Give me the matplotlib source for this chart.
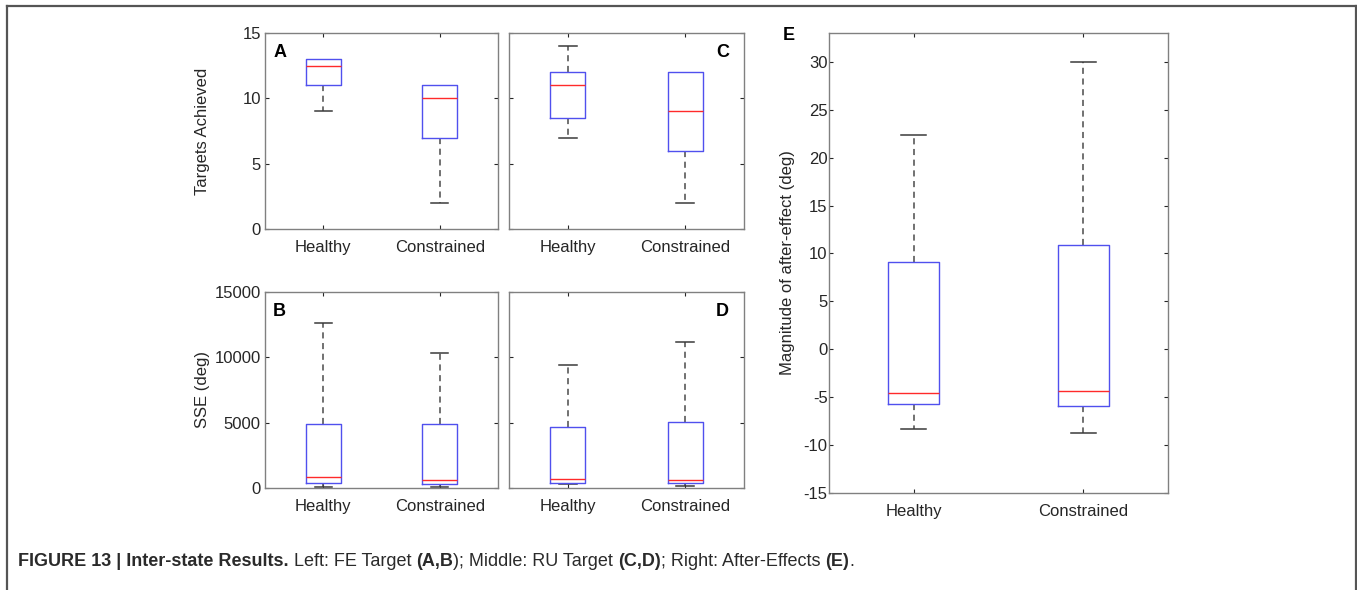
import matplotlib
matplotlib.use("Agg")
import matplotlib.pyplot as plt
from matplotlib.lines import Line2D

plt.rcParams['font.family'] = ['Liberation Sans', 'DejaVu Sans']
plt.rcParams['axes.unicode_minus'] = False

groups = ['Healthy', 'Constrained']

# five-number summaries per group: low whisker, q1, median, q3, high whisker
fe_targets = [[9, 11, 12.5, 13, 13], [2, 7, 10, 11, 11]]
fe_sse = [[100, 360, 840, 4870, 12600], [100, 280, 640, 4920, 10330]]
ru_targets = [[7, 8.5, 11, 12, 14], [2, 6, 9, 12, 12]]
ru_sse = [[280, 360, 690, 4690, 9390], [150, 380, 640, 5070, 11170]]
after_effect = [[-8.3, -5.7, -4.6, 9.1, 22.4], [-8.7, -5.9, -4.4, 10.9, 30.0]]

targets_ticks = [0, 5, 10, 15]
sse_ticks = [0, 5000, 10000, 15000]
ae_ticks = [-15, -10, -5, 0, 5, 10, 15, 20, 25, 30]

W, H = 1357, 590
fig = plt.figure(figsize=(W / 100, H / 100), dpi=100)

def px_axes(left, top, right, bottom):
    return fig.add_axes([left / W, 1 - bottom / H, (right - left) / W, (bottom - top) / H])

def boxes(ax, summary):
    stats = []
    for name, (lo, q1, med, q3, hi) in zip(groups, summary):
        stats.append(dict(label=name, whislo=lo, q1=q1, med=med, q3=q3, whishi=hi))
    parts = ax.bxp(stats, positions=[1, 2], widths=0.3, showfliers=False,
                   boxprops=dict(color='#5050ee', lw=1.0, zorder=3),
                   medianprops=dict(color='#ff2a2a', lw=1.0, zorder=4),
                   whiskerprops=dict(color='#4a4a4a', lw=1.1, linestyle=(0, (4, 3)), zorder=2),
                   capprops=dict(color='#3a3a3a', lw=1.1, zorder=2))
    # no cap where the whisker has zero length (it would sit on the box edge)
    for i, st in enumerate(stats):
        if st['whislo'] == st['q1']:
            parts['caps'][2 * i].set_visible(False)
        if st['whishi'] == st['q3']:
            parts['caps'][2 * i + 1].set_visible(False)
    ax.set_xlim(0.5, 2.5)
    ax.tick_params(direction='in', length=3, top=True, right=True,
                   labelsize=12, colors='#262626', pad=3)
    ax.tick_params(axis='x', labelsize=12, pad=8)
    for s in ax.spines.values():
        s.set_color('#808080')
        s.set_linewidth(1.0)

ax_a = px_axes(265, 33, 498, 229)
ax_c = px_axes(509, 33, 744, 229)
ax_b = px_axes(265, 292, 498, 488)
ax_d = px_axes(509, 292, 744, 488)
ax_e = px_axes(829, 33, 1168, 493)

boxes(ax_a, fe_targets)
boxes(ax_c, ru_targets)
boxes(ax_b, fe_sse)
boxes(ax_d, ru_sse)
boxes(ax_e, after_effect)

for ax in (ax_a, ax_c):
    ax.set_ylim(0, 15)
    ax.set_yticks(targets_ticks)
for ax in (ax_b, ax_d):
    ax.set_ylim(0, 15000)
    ax.set_yticks(sse_ticks)
ax_c.set_yticklabels([])
ax_d.set_yticklabels([])
ax_e.set_ylim(-15, 33)
ax_e.set_yticks(ae_ticks)
ax_e.tick_params(axis='y', pad=1)

ax_a.set_ylabel('Targets Achieved', fontsize=12, color='#262626')
ax_a.yaxis.set_label_coords(-0.236, 0.5)
ax_b.set_ylabel('SSE (deg)', fontsize=12, color='#262626')
ax_b.yaxis.set_label_coords(-0.236, 0.5)
ax_e.set_ylabel('Magnitude of after-effect (deg)', fontsize=12, color='#262626')
ax_e.yaxis.set_label_coords(-0.100, 0.5)

letter = dict(fontsize=13, fontweight='bold', va='center')
ax_a.text(0.035, 0.9, 'A', transform=ax_a.transAxes, ha='left', **letter)
ax_b.text(0.035, 0.9, 'B', transform=ax_b.transAxes, ha='left', **letter)
ax_c.text(0.936, 0.9, 'C', transform=ax_c.transAxes, ha='right', **letter)
ax_d.text(0.936, 0.9, 'D', transform=ax_d.transAxes, ha='right', **letter)
fig.text(789 / W, 1 - 35 / H, 'E', ha='center', **letter)

# frame round the whole figure
frame = dict(color='#555555', lw=1.6, transform=fig.transFigure)
fig.add_artist(Line2D([7 / W, 1356 / W], [1 - 6 / H, 1 - 6 / H], **frame))
fig.add_artist(Line2D([7 / W, 7 / W], [0, 1 - 6 / H], **frame))
fig.add_artist(Line2D([1356 / W, 1356 / W], [0, 1 - 6 / H], **frame))

# caption built from bold and regular runs
caption = [
    ('FIGURE 13 | Inter-state Results.', 'bold'),
    (' Left: FE Target ', 'normal'),
    ('(A,B', 'bold'),
    ('); Middle: RU Target ', 'normal'),
    ('(C,D)', 'bold'),
    ('; Right: After-Effects ', 'normal'),
    ('(E)', 'bold'),
    ('.', 'normal'),
]
cap_size = 13
renderer = fig.canvas.get_renderer()

def run_width(s, weight):
    t = fig.text(0, 0, s, fontsize=cap_size, fontweight=weight)
    w = t.get_window_extent(renderer).width
    t.remove()
    return w

space_w = run_width('a a', 'normal') - run_width('aa', 'normal')
x = 18.0
y = 1 - 562 / H
for s, weight in caption:
    lead = len(s) - len(s.lstrip(' '))
    trail = len(s) - len(s.rstrip(' '))
    x += lead * space_w
    core = s.strip(' ')
    t = fig.text(x / W, y, core, fontsize=cap_size, fontweight=weight,
                 va='center', color='#2a2a2a')
    x += t.get_window_extent(renderer).width + trail * space_w

fig.savefig('out.png', dpi=100)
